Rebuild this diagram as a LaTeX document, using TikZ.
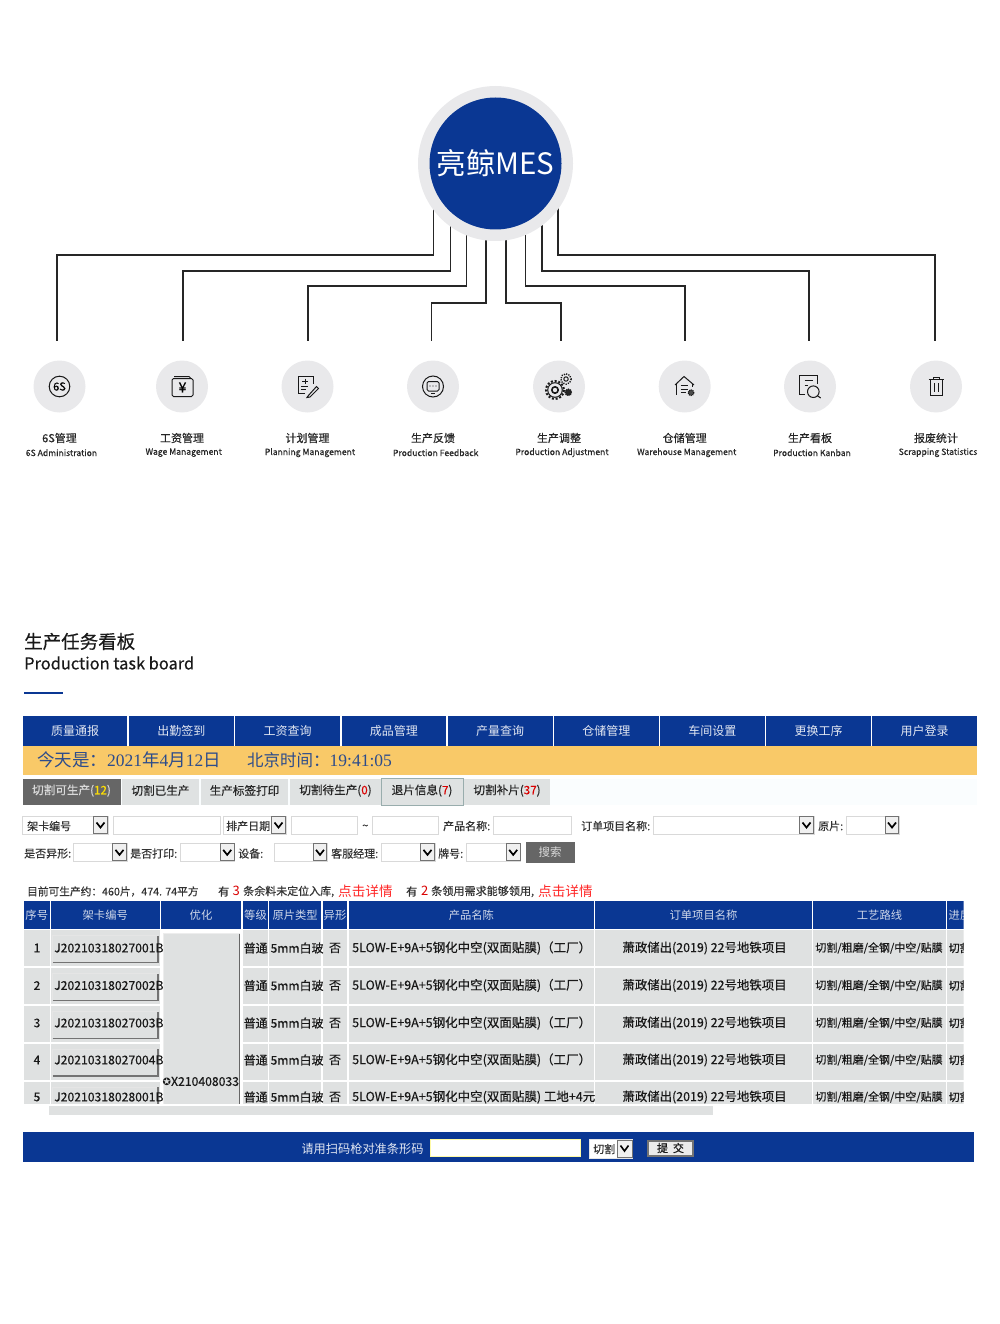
\documentclass[tikz,border=0pt]{standalone}
\usepackage{fontspec}
\setmainfont{Noto Sans CJK SC}
\newfontfamily\semifont[FakeBold=0.4]{Noto Sans CJK SC}
\newfontfamily\datefont{Liberation Serif}
\newfontfamily\symfont{DejaVu Sans}
\usepackage{tikz}
\usetikzlibrary{calc,positioning,backgrounds}
\definecolor{mesblue}{HTML}{0A3793}
\definecolor{ringgrey}{HTML}{E9E9EB}
\definecolor{barbg}{HTML}{F9C968}
\definecolor{datetxt}{HTML}{2C4C8C}
\definecolor{tabgrey}{HTML}{DFE2E2}
\definecolor{cellgrey}{HTML}{DFE1E1}
\definecolor{darkgrey}{HTML}{666666}
\tikzset{
	busline/.style={line width=1.4pt,draw=black!85},
	iconbg/.style={circle,fill=ringgrey,minimum size=52pt,inner sep=0pt},
	iconline/.style={line width=1pt,draw=black!90},
	cnlabel/.style={font=\semifont\fontsize{11}{12}\selectfont,text=black!85,inner sep=0pt},
	enlabel/.style={font=\semifont\fontsize{8.6}{11}\selectfont,text=black!85,inner sep=0pt},
	navbtn/.style={fill=mesblue,text=white!88!mesblue,font=\fontsize{12}{13}\selectfont,inner sep=0pt},
	tabbtn/.style={fill=tabgrey,text=black!85,font=\semifont\fontsize{11.6}{12}\selectfont,inner sep=0pt},
	formtxt/.style={anchor=west,inner sep=0pt,text=black!80,font=\semifont\fontsize{11}{12}\selectfont},
	headtxt/.style={text=white!80!mesblue,font=\fontsize{11.3}{13}\selectfont,inner sep=0pt},
	celltxt/.style={text=black!90,inner sep=0pt,font=\semifont\fontsize{12.2}{14}\selectfont},
	smalltxt/.style={text=black!90,inner sep=0pt,font=\semifont\fontsize{12}{12}\selectfont},
}
% field with its drop-down arrow: x1, x2, y1, y2
\newcommand{\selfield}[4]{
	\draw[draw=black!15,fill=white,line width=.8pt] (#1,#3) rectangle (#2,#4);
	\draw[draw=black!55,fill=black!6,line width=.9pt] (#2-14.5,#3+.8) rectangle (#2-.6,#4-.8);
	\draw[line width=1.7pt,black] (#2-11.5,{(#3+#4)/2-2.5}) -- (#2-7.5,{(#3+#4)/2+2.5}) -- (#2-3.5,{(#3+#4)/2-2.5});
}
\begin{document}
\begin{tikzpicture}[x=1pt,y=-1pt]
	\useasboundingbox (0,0) rectangle (1000,1324);

	% hub and branches
	\node(hubring) [circle,fill=ringgrey,minimum size=155pt,inner sep=0pt] at (495.5,163.5) {};
	\node(hub) [circle,fill=mesblue,minimum size=132pt,inner sep=0pt,text=white,font=\fontsize{29.5}{32}\selectfont] at (hubring.center) {亮鲸MES};
	\foreach \i/\ix/\cn/\enx/\en in {
		1/59.5/6S管理/61.5/6S Administration,
		2/182/工资管理/183.7/Wage Management,
		3/307.5/计划管理/310/Planning Management,
		4/433/生产反馈/435.7/Production Feedback,
		5/559/生产调整/562/Production Adjustment,
		6/684.7/仓储管理/686.7/Warehouse Management,
		7/810/生产看板/812/Production Kanban,
		8/936/报废统计/938/Scrapping Statistics}{
		\node(icon\i) [iconbg] at (\ix,386.5) {};
		\node(cn\i) [cnlabel] at (\ix,438) {\cn};
		\node(en\i) [enlabel] at (\enx,452.7) {\en};
	}
	\begin{scope}[on background layer]
		\foreach \i/\sx/\my/\ex in {1/-62/255/57,2/-45/271/183,3/-29/286/308,4/-9.5/303/431.5,5/10.5/303/561,6/30/286/685,7/46.5/271/809,8/62.5/255/935}{
			\coordinate(top\i) at (\ex,341);
			\draw[busline] ($(hubring.center)+(\sx,40)$) |- (\ex,\my) -- (top\i);
		}
	\end{scope}

	% 6S
	\draw[iconline] (icon1) circle (10.3);
	\node(icon1txt) [inner sep=0pt,font=\semifont\fontsize{11}{12}\selectfont] at (icon1) {6S};
	% wage
	\draw[iconline,rounded corners=1.5pt] (172,378.5) rectangle (193,396.5);
	\draw[iconline] (174,376.5) -- (189,376.5) -- (191,378.5);
	\node(icon2txt) [inner sep=0pt,font=\semifont\fontsize{14}{14}\selectfont] at (182.5,387.5) {¥};
	% plan
	\draw[iconline] (305,393) -- (298,393) -- (298,376.5) -- (313,376.5) -- (313,384);
	\draw[iconline] (302,381) -- (308,381) (305,378.5) -- (305,383.5) (301,386) -- (308,386) (301,389) -- (306,389);
	\draw[iconline] (308,396) -- (316.5,386.5) -- (318.5,388.5) -- (310,397) -- (307,397.5) -- cycle;
	% feedback
	\draw[iconline] (icon4) circle (10.5);
	\draw[iconline,rounded corners=1.5pt] (427,381.5) rectangle (439,391);
	\fill[black!85] (430,386) circle (.6) (433,386) circle (.6) (436,386) circle (.6);
	\draw[iconline] (431,393.5) -- (435,393.5);
	% adjustment
	\draw[line width=2pt,dash pattern=on 2pt off 1.8pt,black!90] (555,390) circle (9);
	\draw[iconline] (555,390) circle (7.3);
	\draw[iconline,line width=1.6pt] (555,390) circle (3.2);
	\draw[line width=1.4pt,dash pattern=on 1.2pt off 1.2pt,black!90] (566,379) circle (5.2);
	\draw[iconline] (566,379) circle (2.2);
	\draw[line width=1.2pt,dash pattern=on 1pt off .8pt,black!90,fill=black!85] (568.3,392.3) circle (3.2);
	% warehouse
	\draw[iconline] (675,385) -- (684,376.5) -- (694,385);
	\draw[iconline] (676,384) -- (676,394.5) (692.5,384) -- (692.5,387);
	\draw[iconline] (680.5,385.5) -- (688,385.5) (680.5,389) -- (688,389) (680.5,392.5) -- (686,392.5);
	\draw[line width=1.2pt,dash pattern=on 1pt off .8pt,black!90,fill=black!70] (691,392.7) circle (2.8);
	% kanban
	\draw[iconline] (805,394.5) -- (799.5,394.5) -- (799.5,375) -- (817.5,375) -- (817.5,384);
	\draw[iconline] (804.5,380.5) -- (813,380.5) (804.5,385.5) -- (808,385.5);
	\draw[iconline] (813.3,391.7) circle (5.8);
	\draw[iconline] (817.5,395.8) -- (820.7,398);
	% scrapping
	\draw[iconline] (928.5,379.5) -- (943.5,379.5) (933,379.5) -- (933,377.5) -- (939,377.5) -- (939,379.5);
	\draw[iconline] (930,379.5) -- (930,395) -- (942,395) -- (942,379.5);
	\draw[iconline] (934.5,383) -- (934.5,392) (938,383) -- (938,392);

	% title
	\node(boardcn) [anchor=west,inner sep=0pt,font=\semifont\fontsize{18.5}{20}\selectfont,text=black!90] at (24,641.5) {生产任务看板};
	\node(boarden) [anchor=west,inner sep=0pt,font=\semifont\fontsize{16.4}{20}\selectfont,text=black!90] at (24,663) {Production task board};
	\draw[mesblue,line width=2pt] (24,692.5) -- (62.5,692.5);

	% nav bar
	\foreach \i/\xa/\xb/\txt in {1/23/127/质量通报,2/128.7/234/出勤签到,3/235/340/工资查询,4/341.5/446/成品管理,5/447.5/552.5/产量查询,6/553.7/658.8/仓储管理,7/660/764.8/车间设置,8/766/871/更换工序,9/872/977/用户登录}{
		\path[fill=mesblue] (\xa,716) rectangle (\xb,746);
		\node(nav\i) [navbtn] at ({(\xa+\xb)/2},731) {\txt};
	}
	\fill[barbg] (23,746) rectangle (977,775);
	\node(today) [anchor=west,inner sep=0pt,text=datetxt,font=\fontsize{17.5}{20}\selectfont] at (37,760) {今天是：\datefont 2021\rmfamily 年\datefont 4\rmfamily 月\datefont 12\rmfamily 日};
	\node(clock) [anchor=west,inner sep=0pt,text=datetxt,font=\fontsize{16.5}{20}\selectfont] at (247,760.5) {北京时间：\datefont\fontsize{17.5}{20}\selectfont 19:41:05};

	% tabs
	\fill[black!3!cyan!2!white] (23,779) rectangle (977,804.7);
	\foreach \i/\xa/\xb/\txt in {2/122/199/切割已生产,3/201/288/生产标签打印,4/290/381/切割待生产(\textcolor{red!85!black}{0}),6/464/550/切割补片(\textcolor{red!85!black}{37})}{
		\path[fill=tabgrey] (\xa,779) rectangle (\xb,804.7);
		\node(tab\i) [tabbtn] at ({(\xa+\xb)/2},790.5) {\txt};
	}
	\path[fill=darkgrey] (23,779) rectangle (121,804.7);
	\node(tab1) [tabbtn,fill=none,text=white!85!black] at (71.5,790.5) {切割可生产(\textcolor{yellow!80!orange}{12})};
	\path[fill=tabgrey,draw=teal!40!black!40,line width=.8pt] (381.6,778.8) rectangle (463,805);
	\node(tab5) [tabbtn] at (422,790.5) {退片信息(\textcolor{red!85!black}{7})};

	% filter form
	\selfield{22.5}{108}{816}{834}
	\node(f1) [formtxt] at (27,826) {架卡编号};
	\draw[black!15,line width=.8pt] (113,816) rectangle (220,834);
	\selfield{223}{286}{816}{834}
	\node(f2) [formtxt] at (226,826) {排产日期};
	\draw[black!15,line width=.8pt] (291,816) rectangle (357.5,834);
	\node(f3) [formtxt] at (362,827) {\textasciitilde};
	\draw[black!15,line width=.8pt] (372,816) rectangle (438.5,834);
	\node(f4) [formtxt] at (443,826) {产品名称:};
	\draw[black!15,line width=.8pt] (493,816) rectangle (571,834);
	\node(f5) [formtxt] at (581,826) {订单项目名称:};
	\selfield{653}{814}{816}{834}
	\node(f6) [formtxt] at (818,826) {原片:};
	\selfield{846}{899.5}{816}{834}
	\foreach \i/\lx/\txt/\xa/\xb in {7/24/是否异形:/73.3/127,8/130/是否打印:/180.7/234.7,9/238/设备:/274/327.5,10/331/客服经理:/381/435,11/438/牌号:/466/520.7}{
		\selfield{\xa}{\xb}{843}{861.7}
		\node(f\i) [formtxt] at (\lx,853.5) {\txt};
	}
	\path[fill=darkgrey] (526,842) rectangle (574.7,862.7);
	\node(search) [inner sep=0pt,text=white!85!black,font=\fontsize{11.5}{13}\selectfont] at (550,852) {搜索};

	% counters
	\node(info1) [formtxt,font=\semifont\fontsize{10.7}{12}\selectfont] at (27,891.5) {目前可生产约：460片，474. 74平方};
	\node(info2) [formtxt] at (218,891.5) {有};
	\node(info3) [formtxt,text=red!85!black,font=\fontsize{13}{12}\selectfont] at (232.5,891) {3};
	\node(info4) [formtxt,font=\semifont\fontsize{11}{12}\selectfont] at (243,891.5) {条余料未定位入库,};
	\node(link1) [formtxt,text=red!85,font=\fontsize{13.6}{14}\selectfont] at (338,891) {点击详情};
	\node(info5) [formtxt] at (406,891.5) {有};
	\node(info6) [formtxt,text=red!85!black,font=\fontsize{13}{12}\selectfont] at (421,891) {2};
	\node(info7) [formtxt,font=\semifont\fontsize{11.1}{12}\selectfont] at (431,891.5) {条领用需求能够领用,};
	\node(link2) [formtxt,text=red!85,font=\fontsize{13.6}{14}\selectfont] at (538,891) {点击详情};

	% table
	\begin{scope}
		\clip (24,901) rectangle (963.5,1103);
		\foreach \c/\xa/\xb/\txt in {1/24/49.5/序号,2/51/159.5/架卡编号,3/161/241/优化,4/243/268/等级,5/269.3/321/原片类型,6/323/347/异形,7/349/593.7/产品名陈,8/595/812/订单项目名称,9/813/946/工艺路线}{
			\path[fill=mesblue] (\xa,901) rectangle (\xb,929);
			\node(head\c) [headtxt] at ({(\xa+\xb)/2},915) {\txt};
		}
		\path[fill=mesblue] (947,901) rectangle (980,929);
		\node(head10) [headtxt,anchor=west] at (948.5,915) {进度};
		\foreach \r/\ya/\yb in {1/930/966,2/967.7/1004,3/1005.7/1042,4/1043.7/1080,5/1081.5/1110}{
			\foreach \xa/\xb in {24/49.5,51/159.5,243/268,269.3/321,323/347,349/593.7,595/812,813/946,947/980}{
				\path[fill=cellgrey] (\xa,\ya) rectangle (\xb,\yb);
			}
		}
		\foreach \r/\ya/\yb in {1/935.7/962.7,2/973.7/1000.7,3/1011.7/1038.3,4/1049.3/1076,5/1087.3/1114}{
			\draw[white!90!black,line width=.8pt] (52.5,\yb) -- (52.5,\ya) -- (158,\ya);
			\draw[black!55,line width=1.1pt] (52.5,\yb) -- (158,\yb) -- (158,\ya);
		}
		\path[fill=cellgrey] (163.5,933.5) rectangle (239.5,1110);
		\draw[white!93!black,line width=.8pt] (163.5,1110) -- (163.5,933.5) -- (239.5,933.5);
		\draw[black!60,line width=1.5pt] (239.5,933.5) -- (239.5,1110);
		\foreach \r/\yt/\sn/\prod in {
			1/948/J20210318027001B/5LOW-E+9A+5钢化中空(双面贴膜)（工厂）,
			2/985.5/J20210318027002B/5LOW-E+9A+5钢化中空(双面贴膜)（工厂）,
			3/1023/J20210318027003B/5LOW-E+9A+5钢化中空(双面贴膜)（工厂）,
			4/1060/J20210318027004B/5LOW-E+9A+5钢化中空(双面贴膜)（工厂）,
			5/1097/J20210318028001B/5LOW-E+9A+5钢化中空(双面贴膜) 工地+4元}{
			\node(seq\r) [smalltxt] at (37,\yt) {\r};
			\node(sn\r) [celltxt,anchor=west] at (54,\yt) {\sn};
			\node(grade\r) [smalltxt,anchor=west] at (243.5,\yt) {普通};
			\node(glass\r) [celltxt,anchor=west,font=\semifont\fontsize{12}{14}\selectfont] at (270.5,\yt) {5mm白玻};
			\node(odd\r) [smalltxt] at (335,\yt) {否};
			\node(prod\r) [celltxt,anchor=west,font=\semifont\fontsize{12.5}{14}\selectfont] at (352,\yt) {\prod};
			\node(order\r) [celltxt,font=\semifont\fontsize{12.4}{14}\selectfont] at (704.5,\yt) {萧政储出(2019) 22号地铁项目};
			\node(route\r) [smalltxt,font=\semifont\fontsize{11}{12}\selectfont] at (879,\yt) {切割/粗磨/全钢/中空/贴膜};
			\node(step\r) [smalltxt,anchor=west,font=\semifont\fontsize{11}{12}\selectfont] at (948.5,\yt) {切割};
		}
		\node(opt) [celltxt,anchor=west,font=\semifont\fontsize{12.2}{14}\selectfont] at (162.5,1081.5) {{\symfont\fontsize{10}{10}\selectfont ✪}X210408033};
	\end{scope}
	\path[fill=cellgrey] (49,1105.7) rectangle (713,1115);

	% scan bar
	\fill[mesblue] (23,1132) rectangle (973.5,1162);
	\node(scan) [headtxt,font=\fontsize{12.2}{13}\selectfont,text=white!88!mesblue] at (362.5,1148.5) {请用扫码枪对准条形码};
	\draw[yellow!35!white,fill=white,line width=1pt] (430.5,1139.5) rectangle (580.5,1156.5);
	\path[fill=white,draw=black!10,line width=.8pt] (589.5,1139.5) rectangle (632.5,1158);
	\draw[draw=black!55,fill=black!6,line width=.9pt] (617.5,1140.5) rectangle (632,1157);
	\draw[line width=1.6pt,black] (620.5,1145.5) -- (624.5,1151) -- (628.5,1145.5);
	\node(cut) [formtxt,font=\semifont\fontsize{11}{12}\selectfont] at (593,1149) {切割};
	\path[fill=black!8,draw=black!55,line width=1.4pt] (648,1141) rectangle (693,1156);
	\node(submit) [inner sep=0pt,text=black!90,font=\semifont\fontsize{11}{12}\selectfont] at (670.5,1148) {提\ \ 交};
\end{tikzpicture}
\end{document}
